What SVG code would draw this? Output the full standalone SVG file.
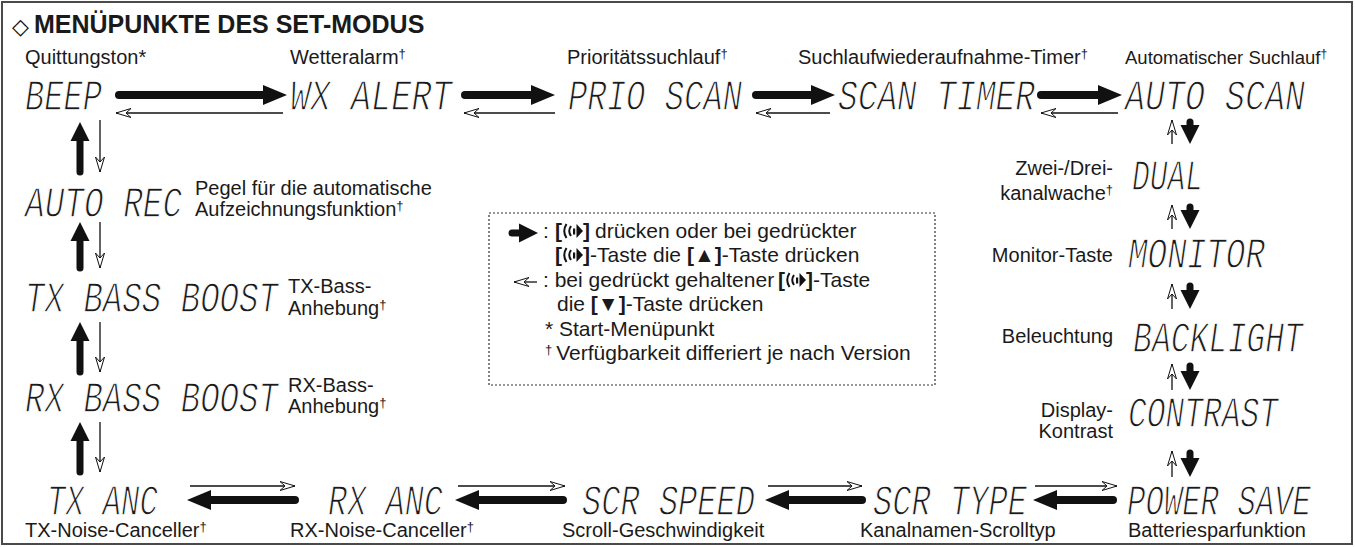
<svg xmlns="http://www.w3.org/2000/svg" xmlns:xlink="http://www.w3.org/1999/xlink" width="1355" height="547" viewBox="0 0 1355 547">
<style>
.lb{font-family:"Liberation Sans",Arial,"DejaVu Sans",sans-serif;font-size:20px;fill:#1a1a1a}
.lg{font-size:21px}
.b{font-weight:bold}
.lcd{font-family:"Liberation Mono","DejaVu Sans Mono",monospace;font-size:44px;font-style:italic;fill:#1a1a1a;stroke:#fff;stroke-width:1.3px}
.end{text-anchor:end}
.bold{stroke:#111;stroke-width:8;stroke-linecap:round;fill:none}
.boldv{stroke:#111;stroke-width:7;stroke-linecap:round;fill:none}
.thin{stroke:#111;stroke-width:1.3;fill:none}
</style>
<defs>
<marker id="hb" markerUnits="userSpaceOnUse" orient="auto" overflow="visible" markerWidth="1" markerHeight="1" refX="0" refY="0">
<path d="M-3,-10 L21,0 L-3,10 Z" fill="#111"/>
</marker>
<marker id="hbs" markerUnits="userSpaceOnUse" orient="auto" overflow="visible" markerWidth="1" markerHeight="1" refX="0" refY="0">
<path d="M-2,-9.5 L17,0 L-2,9.5 Z" fill="#111"/>
</marker>
<marker id="ht" markerUnits="userSpaceOnUse" orient="auto" overflow="visible" markerWidth="1" markerHeight="1" refX="0" refY="0">
<path d="M0,0 L-15,-4.5 L-10,0 L-15,4.5 Z" fill="#fff" stroke="#111" stroke-width="1"/>
</marker>
<g id="key">
<path d="M4.5,-14 Q0,-7 4.5,0" fill="none" stroke="#111" stroke-width="2"/>
<path d="M9,-12 Q5.5,-7 9,-2" fill="none" stroke="#111" stroke-width="2"/>
<rect x="11" y="-9.5" width="2.2" height="6" fill="#111"/>
<path d="M14.5,-14 L21,-7 L14.5,0 Z" fill="#111"/>
</g>
</defs>
<rect x="2" y="2" width="1350" height="542" fill="#fff" stroke="#4a4a4a" stroke-width="2"/>

<g id="title">
<text x="12" y="34" style="font-family:'DejaVu Sans',sans-serif;font-size:22px;font-weight:bold;fill:#111">◇</text>
<text class="lb b" x="34" y="33" style="font-size:25px">MENÜPUNKTE DES SET-MODUS</text>
</g>

<g id="n-beep">
<text class="lb" x="25" y="64">Quittungston*</text>
<text class="lcd" x="25" y="110" textLength="77" lengthAdjust="spacingAndGlyphs">BEEP</text>
</g>
<g id="n-wx">
<text class="lb" x="290" y="64">Wetteralarm<tspan font-size="13" dy="-6">†</tspan></text>
<text class="lcd" x="290" y="110" textLength="162" lengthAdjust="spacingAndGlyphs">WX ALERT</text>
</g>
<g id="n-prio">
<text class="lb" x="567" y="64">Prioritätssuchlauf<tspan font-size="13" dy="-6">†</tspan></text>
<text class="lcd" x="568" y="110" textLength="174" lengthAdjust="spacingAndGlyphs">PRIO SCAN</text>
</g>
<g id="n-timer">
<text class="lb" x="798" y="64">Suchlaufwiederaufnahme-Timer<tspan font-size="13" dy="-6">†</tspan></text>
<text class="lcd" x="838" y="110" textLength="197" lengthAdjust="spacingAndGlyphs">SCAN TIMER</text>
</g>
<g id="n-autoscan">
<text class="lb" x="1125" y="64" style="font-size:18.5px">Automatischer Suchlauf<tspan font-size="12" dy="-6">†</tspan></text>
<text class="lcd" x="1125" y="110" textLength="180" lengthAdjust="spacingAndGlyphs">AUTO SCAN</text>
</g>
<g id="n-dual">
<text class="lb end" x="1113" y="175">Zwei-/Drei-</text>
<text class="lb end" x="1113" y="200">kanalwache<tspan font-size="13" dy="-6">†</tspan></text>
<text class="lcd" x="1132" y="190" textLength="71" lengthAdjust="spacingAndGlyphs">DUAL</text>
</g>
<g id="n-monitor">
<text class="lb end" x="1113" y="262">Monitor-Taste</text>
<text class="lcd" x="1128" y="268" textLength="137" lengthAdjust="spacingAndGlyphs">MONITOR</text>
</g>
<g id="n-backlight">
<text class="lb end" x="1113" y="343">Beleuchtung</text>
<text class="lcd" x="1133" y="352" textLength="170" lengthAdjust="spacingAndGlyphs">BACKLIGHT</text>
</g>
<g id="n-contrast">
<text class="lb end" x="1113" y="417">Display-</text>
<text class="lb end" x="1113" y="438">Kontrast</text>
<text class="lcd" x="1128" y="427" textLength="150" lengthAdjust="spacingAndGlyphs">CONTRAST</text>
</g>
<g id="n-power">
<text class="lcd" x="1127" y="515" textLength="184" lengthAdjust="spacingAndGlyphs">POWER SAVE</text>
<text class="lb" x="1128" y="537">Batteriesparfunktion</text>
</g>
<g id="n-scrtype">
<text class="lcd" x="873" y="515" textLength="154" lengthAdjust="spacingAndGlyphs">SCR TYPE</text>
<text class="lb" x="860" y="537">Kanalnamen-Scrolltyp</text>
</g>
<g id="n-scrspeed">
<text class="lcd" x="582" y="515" textLength="173" lengthAdjust="spacingAndGlyphs">SCR SPEED</text>
<text class="lb" x="562" y="537">Scroll-Geschwindigkeit</text>
</g>
<g id="n-rxanc">
<text class="lcd" x="328" y="515" textLength="115" lengthAdjust="spacingAndGlyphs">RX ANC</text>
<text class="lb" x="290" y="537">RX-Noise-Canceller<tspan font-size="13" dy="-6">†</tspan></text>
</g>
<g id="n-txanc">
<text class="lcd" x="47" y="515" textLength="111" lengthAdjust="spacingAndGlyphs">TX ANC</text>
<text class="lb" x="25" y="537">TX-Noise-Canceller<tspan font-size="13" dy="-6">†</tspan></text>
</g>
<g id="n-rxbass">
<text class="lcd" x="25" y="412" textLength="253" lengthAdjust="spacingAndGlyphs">RX BASS BOOST</text>
<text class="lb" x="288" y="392">RX-Bass-</text>
<text class="lb" x="288" y="413">Anhebung<tspan font-size="13" dy="-6">†</tspan></text>
</g>
<g id="n-txbass">
<text class="lcd" x="25" y="312" textLength="253" lengthAdjust="spacingAndGlyphs">TX BASS BOOST</text>
<text class="lb" x="288" y="293">TX-Bass-</text>
<text class="lb" x="288" y="315">Anhebung<tspan font-size="13" dy="-6">†</tspan></text>
</g>
<g id="n-autorec">
<text class="lcd" x="25" y="217" textLength="157" lengthAdjust="spacingAndGlyphs">AUTO REC</text>
<text class="lb" x="195" y="195">Pegel für die automatische</text>
<text class="lb" x="195" y="216">Aufzeichnungsfunktion<tspan font-size="13" dy="-6">†</tspan></text>
</g>

<g id="connectors">
<line class="bold" x1="119" y1="95" x2="266" y2="95" marker-end="url(#hb)"/>
<line class="thin" x1="283" y1="113" x2="116" y2="113" marker-end="url(#ht)"/>
<line class="bold" x1="465" y1="95" x2="534" y2="95" marker-end="url(#hb)"/>
<line class="thin" x1="555" y1="113" x2="464" y2="113" marker-end="url(#ht)"/>
<line class="bold" x1="756" y1="95" x2="814" y2="95" marker-end="url(#hb)"/>
<line class="thin" x1="830" y1="113" x2="756" y2="113" marker-end="url(#ht)"/>
<line class="bold" x1="1041" y1="95" x2="1101" y2="95" marker-end="url(#hb)"/>
<line class="thin" x1="1118" y1="113" x2="1041" y2="113" marker-end="url(#ht)"/>

<line class="boldv" x1="80" y1="172" x2="80" y2="139" marker-end="url(#hbs)"/>
<line class="thin" x1="100" y1="120" x2="100" y2="172" marker-end="url(#ht)"/>
<line class="boldv" x1="80" y1="268" x2="80" y2="239" marker-end="url(#hbs)"/>
<line class="thin" x1="100" y1="222" x2="100" y2="268" marker-end="url(#ht)"/>
<line class="boldv" x1="80" y1="372" x2="80" y2="339" marker-end="url(#hbs)"/>
<line class="thin" x1="100" y1="322" x2="100" y2="372" marker-end="url(#ht)"/>
<line class="boldv" x1="80" y1="472" x2="80" y2="439" marker-end="url(#hbs)"/>
<line class="thin" x1="100" y1="422" x2="100" y2="472" marker-end="url(#ht)"/>

<line class="thin" x1="1172" y1="144" x2="1172" y2="120" marker-end="url(#ht)"/>
<line class="boldv" x1="1190" y1="122" x2="1190" y2="127" marker-end="url(#hbs)"/>
<line class="thin" x1="1172" y1="229" x2="1172" y2="205" marker-end="url(#ht)"/>
<line class="boldv" x1="1190" y1="207" x2="1190" y2="212" marker-end="url(#hbs)"/>
<line class="thin" x1="1172" y1="309" x2="1172" y2="284" marker-end="url(#ht)"/>
<line class="boldv" x1="1190" y1="286" x2="1190" y2="292" marker-end="url(#hbs)"/>
<line class="thin" x1="1172" y1="390" x2="1172" y2="364" marker-end="url(#ht)"/>
<line class="boldv" x1="1190" y1="366" x2="1190" y2="373" marker-end="url(#hbs)"/>
<line class="thin" x1="1172" y1="477" x2="1172" y2="451" marker-end="url(#ht)"/>
<line class="boldv" x1="1190" y1="453" x2="1190" y2="460" marker-end="url(#hbs)"/>

<line class="thin" x1="190" y1="486" x2="295" y2="486" marker-end="url(#ht)"/>
<line class="bold" x1="295" y1="500" x2="208" y2="500" marker-end="url(#hb)"/>
<line class="thin" x1="458" y1="486" x2="565" y2="486" marker-end="url(#ht)"/>
<line class="bold" x1="563" y1="500" x2="476" y2="500" marker-end="url(#hb)"/>
<line class="thin" x1="768" y1="486" x2="862" y2="486" marker-end="url(#ht)"/>
<line class="bold" x1="862" y1="500" x2="786" y2="500" marker-end="url(#hb)"/>
<line class="thin" x1="1035" y1="486" x2="1117" y2="486" marker-end="url(#ht)"/>
<line class="bold" x1="1113" y1="500" x2="1054" y2="500" marker-end="url(#hb)"/>
</g>

<g id="legend">
<rect x="489" y="213" width="446" height="172" fill="none" stroke="#333" stroke-width="1.2" stroke-dasharray="2 2"/>
<line class="boldv" x1="512" y1="233" x2="521" y2="233" marker-end="url(#hbs)"/>
<text class="lb lg" x="543" y="238">:</text>
<text class="lb lg b" x="555" y="238">[</text>
<use xlink:href="#key" href="#key" x="562" y="238"/>
<text class="lb lg b" x="583" y="238">]</text>
<text class="lb lg" x="595" y="238">drücken oder bei gedrückter</text>
<text class="lb lg b" x="555" y="262">[</text>
<use xlink:href="#key" href="#key" x="562" y="262"/>
<text class="lb lg b" x="583" y="262">]</text>
<text class="lb lg" x="590" y="262">-Taste die <tspan class="b">[▲]</tspan>-Taste drücken</text>
<line class="thin" x1="537" y1="282" x2="514" y2="282" marker-end="url(#ht)"/>
<text class="lb lg" x="543" y="287">: bei gedrückt gehaltener</text>
<text class="lb lg b" x="778" y="287">[</text>
<use xlink:href="#key" href="#key" x="785" y="287"/>
<text class="lb lg b" x="806" y="287">]</text>
<text class="lb lg" x="813" y="287">-Taste</text>
<text class="lb lg" x="557" y="311">die <tspan class="b">[▼]</tspan>-Taste drücken</text>
<text class="lb lg" x="545" y="336">* Start-Menüpunkt</text>
<text class="lb lg" x="545" y="360"><tspan font-size="13" dy="-6">†</tspan><tspan dy="6" dx="4">Verfügbarkeit differiert je nach Version</tspan></text>
</g>
</svg>
